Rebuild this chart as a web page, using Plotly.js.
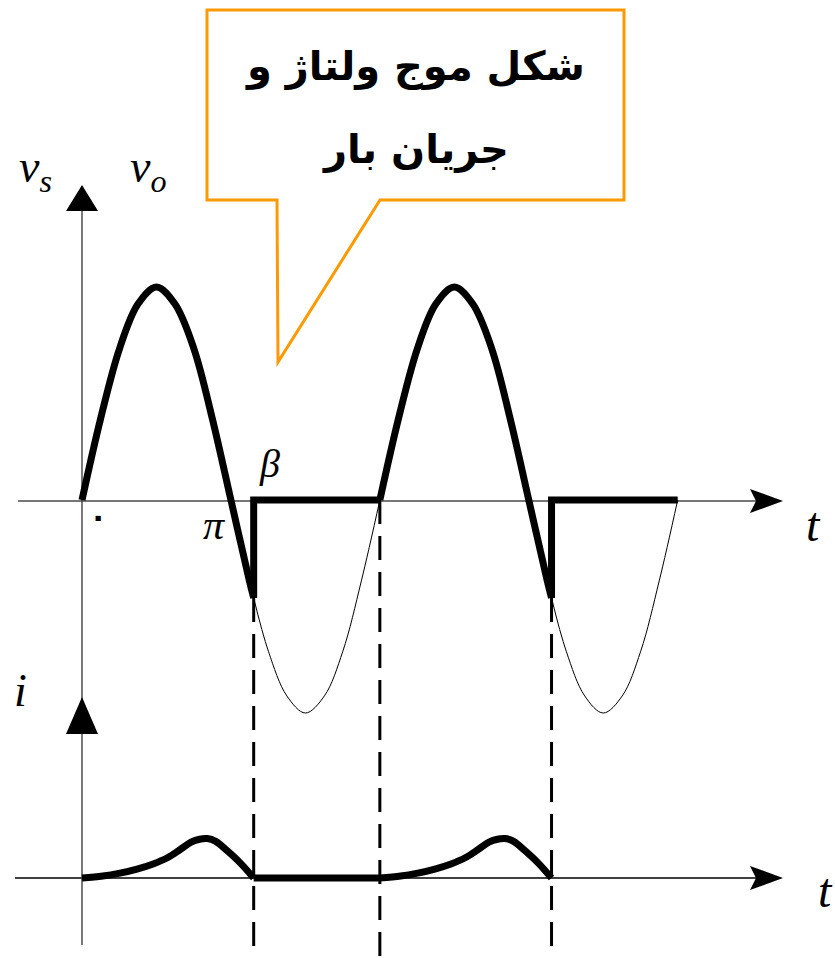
<!DOCTYPE html>
<html>
<head>
<meta charset="utf-8">
<script src="https://cdn.plot.ly/plotly-3.0.1.min.js"></script>
<style>
  html, body { margin: 0; padding: 0; background: #ffffff; }
  #chart { width: 835px; height: 958px; }
</style>
</head>
<body>
<div id="chart"></div>
<script>
// One cycle of the source voltage v_s (angle in rad, value per unit of Vm)
const cycleAngle = [0, 0.39, 0.79, 1.18, 1.57, 1.96, 2.36, 2.75, 3.14, 3.53, 3.62, 3.93, 4.32, 4.71, 5.11, 5.50, 5.89, 6.28];
const cycleVs    = [0, 0.38, 0.71, 0.92, 1.00, 0.92, 0.71, 0.38, 0.00, -0.38, -0.46, -0.71, -0.92, -1.00, -0.92, -0.71, -0.38, 0.00];

// Extinction angle beta and period
const beta = 3.62;
const period = 6.28;
const cycleStarts = [0, 6.28];

// Load current over one conduction interval (angle in rad, value per unit of Vm)
const iAngle = [0, 0.44, 0.80, 1.16, 1.50, 1.80, 2.08, 2.30, 2.48, 2.64, 2.82, 3.06, 3.33, 3.62];
const iValue = [0, 0.009, 0.023, 0.042, 0.066, 0.095, 0.135, 0.168, 0.182, 0.185, 0.172, 0.128, 0.072, 0];

// Text
const axisLabelTop = ['v', 's', 'o'];
const labelPi = 'π';
const labelBeta = 'β';
const labelT = 't';
const labelI = 'i';
const labelZero = '۰';
const calloutLines = ['شکل موج ولتاژ و', 'جریان بار'];

// Page geometry (pixels)
const W = 835, H = 958;
const x0px = 82, periodPx = 298;
const vZeroPx = 500, iZeroPx = 878, unitPx = 213;
const pxPerRad = periodPx / (2 * Math.PI);
const xRange = [-x0px / pxPerRad, (W - x0px) / pxPerRad];
const vRange = [-(H - vZeroPx) / unitPx, vZeroPx / unitPx];
const iRange = [-(H - iZeroPx) / unitPx, iZeroPx / unitPx];

const px = (x) => x / W;
const py = (y) => 1 - y / H;
const pathPx = (pts) => 'M' + pts.map(p => px(p[0]) + ',' + py(p[1])).join(' L') + ' Z';

const thick = { color: '#000000', width: 7 };
const thin = { color: '#000000', width: 1 };
const dashed = { color: '#000000', width: 3, dash: '24px,12px' };

const traces = [];

cycleStarts.forEach((t0) => {
  // conducting part of v_o (follows v_s up to beta)
  const on = cycleAngle.map((a, k) => [a, cycleVs[k]]).filter(p => p[0] <= beta);
  traces.push({
    x: on.map(p => p[0] + t0), y: on.map(p => p[1]),
    mode: 'lines', line: Object.assign({ shape: 'spline' }, thick), yaxis: 'y', hoverinfo: 'skip'
  });
  // remaining negative half of v_s (thin)
  const off = cycleAngle.map((a, k) => [a, cycleVs[k]]).filter(p => p[0] >= beta);
  traces.push({
    x: off.map(p => p[0] + t0), y: off.map(p => p[1]),
    mode: 'lines', line: Object.assign({ shape: 'spline' }, thin), yaxis: 'y', hoverinfo: 'skip'
  });
  // v_o jumps to zero at beta and stays there
  const vBeta = cycleVs[cycleAngle.indexOf(beta)];
  traces.push({
    x: [beta + t0, beta + t0, period + t0], y: [vBeta, 0, 0],
    mode: 'lines', line: Object.assign({ shape: 'linear' }, thick), yaxis: 'y', hoverinfo: 'skip'
  });
  // current pulse
  traces.push({
    x: iAngle.map(a => a + t0), y: iValue,
    mode: 'lines', line: Object.assign({ shape: 'spline', smoothing: 1 }, thick), yaxis: 'y2', hoverinfo: 'skip'
  });
  // guide at beta
  traces.push({
    x: [beta + t0, beta + t0], y: [vBeta, vRange[0] - 1],
    mode: 'lines', line: dashed, yaxis: 'y', hoverinfo: 'skip'
  });
});

// zero current between beta and the next cycle
traces.push({
  x: [beta, period], y: [0, 0],
  mode: 'lines', line: thick, yaxis: 'y2', hoverinfo: 'skip'
});
// guide at 2*pi
traces.push({
  x: [period, period], y: [0, vRange[0] - 1],
  mode: 'lines', line: dashed, yaxis: 'y', hoverinfo: 'skip'
});

const shapes = [
  // time axes
  { type: 'line', xref: 'paper', yref: 'paper', x0: px(18), x1: px(760), y0: py(501), y1: py(501), line: { color: '#777777', width: 2 }, layer: 'below' },
  { type: 'line', xref: 'paper', yref: 'paper', x0: px(15), x1: px(760), y0: py(878), y1: py(878), line: { color: '#000000', width: 1.5 }, layer: 'below' },
  // vertical axis
  { type: 'line', xref: 'paper', yref: 'paper', x0: px(82), x1: px(82), y0: py(195), y1: py(945), line: { color: '#333333', width: 1.3 }, layer: 'below' },
  // arrowheads
  { type: 'path', xref: 'paper', yref: 'paper', path: pathPx([[66, 211], [82, 185], [98, 211]]), fillcolor: '#000', line: { width: 0 } },
  { type: 'path', xref: 'paper', yref: 'paper', path: pathPx([[66, 734], [82, 697], [98, 734]]), fillcolor: '#000', line: { width: 0 } },
  { type: 'path', xref: 'paper', yref: 'paper', path: pathPx([[750, 489], [783, 501], [750, 513], [756, 501]]), fillcolor: '#000', line: { width: 0 } },
  { type: 'path', xref: 'paper', yref: 'paper', path: pathPx([[750, 866], [783, 878], [750, 890], [756, 878]]), fillcolor: '#000', line: { width: 0 } },
  // callout box
  { type: 'path', xref: 'paper', yref: 'paper',
    path: pathPx([[207, 10], [624, 10], [624, 200], [380, 200], [278, 362], [277, 200], [207, 200]]),
    fillcolor: '#ffffff', line: { color: '#FF9900', width: 3 } }
];

const serif = 'Liberation Serif, Times New Roman, serif';
const ann = (x, y, text, size, extra) => Object.assign({
  xref: 'paper', yref: 'paper', x: px(x), y: py(y), text: text, showarrow: false,
  xanchor: 'center', yanchor: 'middle', font: { family: serif, size: size, color: '#000' }
}, extra || {});
const persianFont = { family: 'DejaVu Sans, Noto Sans, sans-serif', size: 40, color: '#000', weight: 'bold' };

const annotations = [
  ann(35, 170, '<i>' + axisLabelTop[0] + '<sub>' + axisLabelTop[1] + '</sub></i>', 46),
  ann(148, 170, '<i>' + axisLabelTop[0] + '<sub>' + axisLabelTop[2] + '</sub></i>', 46),
  ann(20, 690, '<i>' + labelI + '</i>', 46),
  ann(813, 524, '<i>' + labelT + '</i>', 48),
  ann(825, 890, '<i>' + labelT + '</i>', 48),
  ann(214, 525, '<i>' + labelPi + '</i>', 42),
  ann(269, 463, '<i>' + labelBeta + '</i>', 40),
  ann(98, 516, labelZero, 30, { font: { family: 'DejaVu Sans, sans-serif', size: 30, color: '#000', weight: 'bold' } }),
  ann(415, 66, calloutLines[0], 40, { font: persianFont }),
  ann(415, 150, calloutLines[1], 40, { font: persianFont })
];

const layout = {
  width: W, height: H,
  margin: { l: 0, r: 0, t: 0, b: 0, pad: 0 },
  paper_bgcolor: '#ffffff', plot_bgcolor: '#ffffff',
  showlegend: false,
  xaxis: { range: xRange, visible: false, fixedrange: true },
  yaxis: { range: vRange, visible: false, fixedrange: true },
  yaxis2: { range: iRange, visible: false, overlaying: 'y', fixedrange: true },
  shapes: shapes,
  annotations: annotations
};

Plotly.newPlot('chart', traces, layout, { staticPlot: true, displayModeBar: false });
</script>
</body>
</html>
